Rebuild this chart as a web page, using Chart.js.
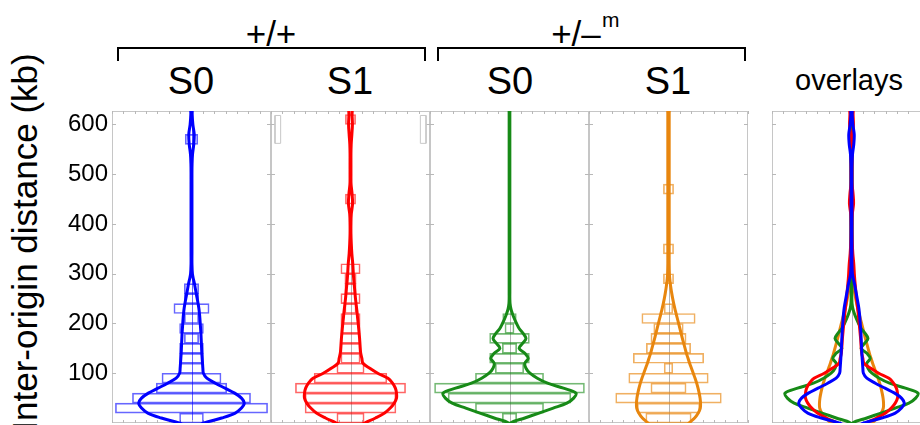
<!DOCTYPE html>
<html><head><meta charset="utf-8">
<script src="https://cdn.jsdelivr.net/npm/chart.js@4"></script>
<style>
html,body{margin:0;padding:0;width:920px;height:425px;overflow:hidden;background:#fff;font-family:"Liberation Sans",Arial,sans-serif;color:#000}
canvas{position:absolute}
.lbl{position:absolute;white-space:nowrap;transform:translateX(-50%);line-height:1}
.br{position:absolute;border:2px solid #000;border-bottom:none;height:14px;box-sizing:border-box}
#ytitle{position:absolute;left:24px;top:242px;width:0;height:0}
#ytitle span{position:absolute;white-space:nowrap;font-size:35px;line-height:1;transform:translate(-50%,-50%) rotate(-90deg)}
</style></head><body>
<div class="lbl" style="left:271px;top:16px;font-size:35px">+/+</div>
<div class="br" style="left:117px;top:47px;width:309px"></div>
<div class="lbl" style="left:576px;top:16px;font-size:35px">+/–</div>
<div style="position:absolute;left:602px;top:9px;font-size:21px;line-height:1">m</div>
<div class="br" style="left:437px;top:47px;width:309px"></div>
<div class="lbl" style="left:191px;top:62px;font-size:38px">S0</div>
<div class="lbl" style="left:350px;top:62px;font-size:38px">S1</div>
<div class="lbl" style="left:510px;top:62px;font-size:38px">S0</div>
<div class="lbl" style="left:668px;top:62px;font-size:38px">S1</div>
<div class="lbl" style="left:849px;top:66px;font-size:29px">overlays</div>
<div id="ytitle"><span>Inter-origin distance (kb)</span></div>

<canvas id="p1" width="275" height="325" style="left:0px;top:105px"></canvas>
<canvas id="p2" width="167" height="325" style="left:267px;top:105px"></canvas>
<canvas id="p3" width="167" height="325" style="left:426px;top:105px"></canvas>
<canvas id="p4" width="167" height="325" style="left:585px;top:105px"></canvas>
<canvas id="p5" width="167" height="325" style="left:768px;top:105px"></canvas>

<script>
// ---- data ----
const yTickValues = [100, 200, 300, 400, 500, 600];
const xTickValues = [-7, -6, -5, -4, -3, -2, -1, 0, 1, 2, 3, 4, 5, 6, 7];
const binSize = 20;

// y levels (kb) at which violin half-widths are read
const violinLevels = [-10,0,10,20,30,40,50,60,70,80,90,100,110,120,130,140,150,160,170,180,190,200,210,220,230,240,250,260,270,280,290,300,320,340,360,380,400,420,440,460,480,500,520,540,560,580,600,620,640];

// violin half-widths (density units)
const wtS0Violin = [0.2,1.1,2.65,3.85,4.4,4.65,4.4,3.8,2.95,2.1,1.35,1.05,1.0,0.97,0.94,0.91,0.89,0.87,0.85,0.83,0.8,0.77,0.74,0.7,0.65,0.58,0.5,0.42,0.34,0.26,0.16,0.08,0.04,0.04,0.04,0.04,0.04,0.04,0.04,0.04,0.04,0.04,0.05,0.09,0.2,0.24,0.12,0.06,0.06];
const wtS1Violin = [0.4,1.25,2.2,3.0,3.5,3.85,4.05,4.05,3.95,3.7,3.3,2.4,1.7,1.1,1.0,0.9,0.86,0.83,0.8,0.76,0.72,0.68,0.63,0.59,0.54,0.49,0.44,0.4,0.36,0.32,0.28,0.25,0.2,0.12,0.07,0.04,0.04,0.07,0.18,0.14,0.05,0.04,0.04,0.04,0.06,0.12,0.17,0.14,0.14];
const hetS0Violin = [0.05,0.1,1.35,2.6,3.85,5.05,5.65,5.85,4.75,3.35,2.45,1.8,1.45,1.35,1.65,1.35,0.85,1.15,1.45,1.2,0.85,0.62,0.42,0.25,0.12,0.05,0.03,0.03,0.03,0.03,0.03,0.03,0.03,0.03,0.03,0.03,0.03,0.03,0.03,0.03,0.03,0.03,0.03,0.03,0.03,0.03,0.03,0.03,0.03];
const hetS1Violin = [1.45,1.8,2.3,2.62,2.8,2.82,2.78,2.7,2.6,2.48,2.34,2.18,2.02,1.86,1.72,1.58,1.46,1.34,1.22,1.11,1.0,0.89,0.78,0.67,0.56,0.46,0.37,0.29,0.22,0.16,0.11,0.08,0.06,0.06,0.06,0.06,0.06,0.06,0.06,0.06,0.06,0.06,0.06,0.06,0.06,0.06,0.06,0.06,0.06];

// histogram bins: lower bin edge (kb) and half-width
const wtS0Bins = [0,20,40,60,80,100,120,140,160,180,200,220,240,260,560];
const wtS0Hist = [1.05,6.7,5.2,3.1,2.6,1.05,1.05,1.05,0.63,1.05,0.63,1.55,0.63,0.63,0.55];
const wtS1Bins = [0,20,40,60,80,100,120,140,160,180,200,220,240,260,280,300,440,600];
const wtS1Hist = [1.2,4.0,4.0,4.85,3.2,1.2,0.85,0.85,0.85,0.85,0.85,0.5,0.85,0.5,0.5,0.85,0.45,0.45];
const hetS0Bins = [0,20,40,60,80,100,120,140,160,180,200];
const hetS0Hist = [0.63,3.0,5.4,6.6,3.0,1.25,1.75,0.63,1.75,0.4,0.6];
const hetS1Bins = [0,20,40,60,80,100,120,140,160,180,200,220,280,340,460];
const hetS1Hist = [2.0,2.75,4.65,1.55,3.5,0.38,3.1,1.95,1.55,1.3,2.35,0.38,0.45,0.45,0.45];

// faint grey outline boxes seen at the top edges of the S1 (+/+) panel
const ghostBoxX = [-6.65,-6.15,-6.15,-6.65,-6.65];
const ghostBoxY = [562,562,618,618,562];

const BLUE = '#0000ff', RED = '#ff0000', GREEN = '#178a17', ORANGE = '#e8860e';
const BLUE_BOX = 'rgba(0,0,255,0.6)', RED_BOX = 'rgba(255,0,0,0.6)', GREEN_BOX = 'rgba(23,138,23,0.6)', ORANGE_BOX = 'rgba(232,134,14,0.65)';

// ---- helpers ----
function violinPoints(widths) {
  const right = violinLevels.map((y, i) => ({x: widths[i], y}));
  const left = violinLevels.map((y, i) => ({x: -widths[i], y})).reverse();
  return right.concat(left);
}
function histBars(starts, halfW) {
  return starts.map((s, i) => ({y: s + binSize / 2, x: [-halfW[i], halfW[i]]}));
}
function violinDs(widths, color) {
  return {type: 'scatter', data: violinPoints(widths), showLine: true, borderColor: color,
    borderWidth: 3, pointRadius: 0, tension: 0.35, fill: false};
}
function histDs(starts, halfW, color) {
  return {type: 'bar', indexAxis: 'y', data: histBars(starts, halfW), borderColor: color,
    backgroundColor: 'rgba(0,0,0,0)', borderWidth: 1, borderSkipped: false,
    barPercentage: 1, categoryPercentage: 1};
}

const framePlugin = {
  id: 'frame',
  beforeDatasetsDraw(chart, args, opts) {
    const {ctx, chartArea: a} = chart;
    const x = chart.scales.x, y = chart.scales.y;
    ctx.save();
    ctx.lineWidth = 1;
    ctx.strokeStyle = opts.center || '#b4b4b4';
    const cx = Math.round(x.getPixelForValue(0)) + 0.5;
    ctx.beginPath(); ctx.moveTo(cx, a.top); ctx.lineTo(cx, a.bottom); ctx.stroke();
    ctx.strokeStyle = '#c6c6c6';
    ctx.strokeRect(Math.round(a.left) + 0.5, Math.round(a.top) + 0.5, Math.round(a.width) - 1, Math.round(a.height) - 1);
    ctx.strokeStyle = '#b8b8b8';
    ctx.beginPath();
    xTickValues.forEach(v => {
      const px = Math.round(x.getPixelForValue(v)) + 0.5;
      ctx.moveTo(px, a.top); ctx.lineTo(px, a.top + 3);
      ctx.moveTo(px, a.bottom); ctx.lineTo(px, a.bottom - 3);
    });
    yTickValues.forEach(v => {
      const py = Math.round(y.getPixelForValue(v)) + 0.5;
      ctx.moveTo(a.left, py); ctx.lineTo(a.left + 4, py);
      ctx.moveTo(a.right, py); ctx.lineTo(a.right - 4, py);
    });
    ctx.stroke();
    ctx.restore();
  }
};

function panel(id, datasets, opt) {
  return new Chart(document.getElementById(id), {
    type: 'scatter',
    data: {datasets},
    options: {
      responsive: false, animation: false, events: [],
      layout: {padding: {top: 6, bottom: 7, left: opt.showY ? 0 : 4, right: 4}},
      plugins: {legend: {display: false}, tooltip: {enabled: false}, frame: {center: opt.center}},
      scales: {
        x: {type: 'linear', min: -7, max: 7, display: false, offset: false},
        y: {type: 'linear', min: 0, max: 627, offset: false, display: !!opt.showY, position: 'left',
          grid: {drawOnChartArea: false, drawTicks: false}, border: {display: false},
          ticks: {color: '#000', padding: 4, font: {family: 'Liberation Sans', size: 24}},
          afterBuildTicks: s => { s.ticks = yTickValues.map(v => ({value: v})); },
          afterFit: s => { if (opt.showY) { s.width = 112; s.paddingTop = 0; s.paddingBottom = 0; } }
        }
      }
    },
    plugins: [framePlugin]
  });
}

panel('p1', [violinDs(wtS0Violin, BLUE), histDs(wtS0Bins, wtS0Hist, BLUE_BOX)], {showY: true, center: BLUE_BOX});
panel('p2', [violinDs(wtS1Violin, RED), histDs(wtS1Bins, wtS1Hist, RED_BOX),
  {type: 'scatter', data: ghostBoxX.map((v, i) => ({x: v, y: ghostBoxY[i]})), showLine: true, borderColor: '#c8c8c8', borderWidth: 1, pointRadius: 0},
  {type: 'scatter', data: ghostBoxX.map((v, i) => ({x: -v, y: ghostBoxY[i]})), showLine: true, borderColor: '#c8c8c8', borderWidth: 1, pointRadius: 0}
], {});
panel('p3', [violinDs(hetS0Violin, GREEN), histDs(hetS0Bins, hetS0Hist, GREEN_BOX)], {});
panel('p4', [violinDs(hetS1Violin, ORANGE), histDs(hetS1Bins, hetS1Hist, ORANGE_BOX)], {});
panel('p5', [violinDs(wtS0Violin, BLUE), violinDs(wtS1Violin, RED), violinDs(hetS0Violin, GREEN), violinDs(hetS1Violin, ORANGE)], {});
</script>
</body></html>
